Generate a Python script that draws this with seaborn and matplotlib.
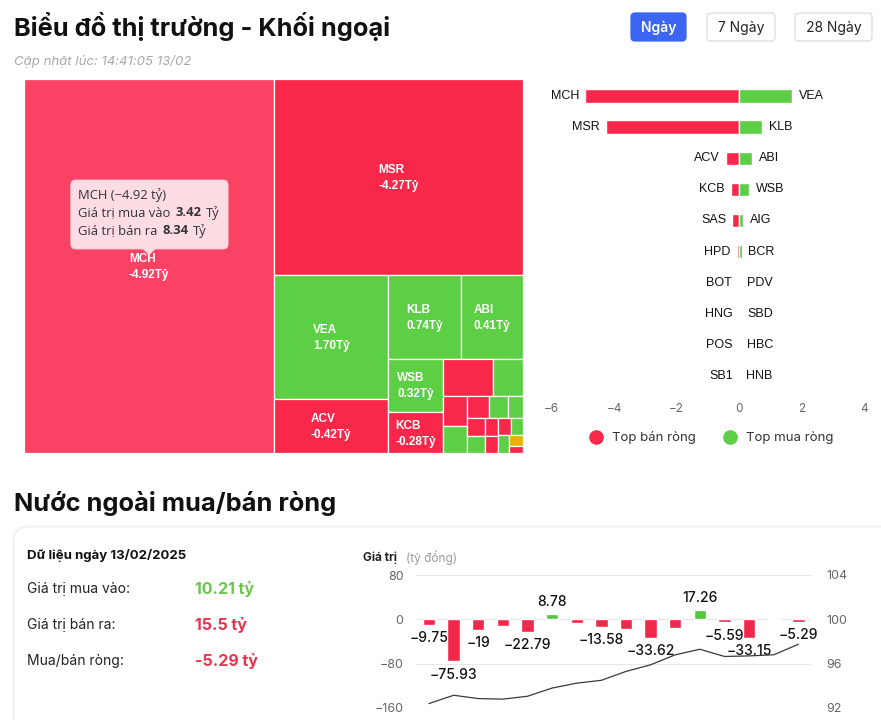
import matplotlib
matplotlib.use("Agg")
import matplotlib.pyplot as plt
import seaborn as sns
from matplotlib.patches import FancyBboxPatch, Rectangle, Polygon
from matplotlib.lines import Line2D

# ---- treemap: giá trị giao dịch (tỷ) và ròng (tỷ) từng mã ----
tm_ma = ["MCH", "MSR", "VEA", "ACV", "KLB", "ABI", "WSB", "KCB",
         "SAS", "AIG", "HPD", "BCR", "BOT", "PDV", "SBD", "HNG",
         "HBC", "POS", "SB1", "", "HNB", "", "", ""]
tm_gtgd = [11.76, 6.14, 1.77, 0.78, 0.76, 0.65, 0.37, 0.28,
           0.237, 0.139, 0.090, 0.082, 0.059, 0.053, 0.041, 0.039,
           0.038, 0.031, 0.029, 0.027, 0.026, 0.025, 0.020, 0.012]
tm_rong = [-4.92, -4.27, 1.70, -0.42, 0.74, 0.41, 0.32, -0.28,
           -0.22, 0.13, -0.08, 0.07, -0.04, 0.035, 0.03, -0.01,
           0.025, -0.005, -0.003, -0.002, 0.01, 0.005, 0.0, -0.001]
tm_hover = "MCH"
hover_mua = 3.42
hover_ban = 8.34

# ---- top bán ròng / mua ròng ----
ban_ma = ["MCH", "MSR", "ACV", "KCB", "SAS", "HPD", "BOT", "HNG", "POS", "SB1"]
ban_gt = [-4.92, -4.27, -0.42, -0.28, -0.22, -0.08, -0.04, -0.01, -0.005, -0.003]
mua_ma = ["VEA", "KLB", "ABI", "WSB", "AIG", "BCR", "PDV", "SBD", "HBC", "HNB"]
mua_gt = [1.70, 0.74, 0.41, 0.32, 0.13, 0.07, 0.035, 0.03, 0.025, 0.01]

# ---- tóm tắt ngày ----
ngay = "13/02/2025"
gt_mua_vao = "10.21"
gt_ban_ra = "15.5"
gt_mua_ban_rong = "-5.29"

# ---- ròng theo phiên + chỉ số ----
rong_phien = [-9.75, -75.93, -19, -11.8, -22.79, 8.78, -7, -13.58,
              -17.9, -33.62, -16, 17.26, -5.59, -33.15, -1.2, -5.29]
chi_so = [92.4, 93.15, 92.85, 92.8, 93.06, 93.8, 94.24, 94.5,
          95.3, 95.9, 96.8, 97.3, 96.65, 96.7, 96.8, 97.75]
an_nhan = [3, 6, 8, 10, 14]

RED = "#F9284B"
RED_HOVER = "#FA4264"
GREEN = "#5DCF45"
YELLOW = "#E3B400"
BLUE = "#3C65F2"
W_PX, H_PX = 881, 720

sns.set_theme(style="white")
plt.rcParams["font.family"] = ["Inter", "DejaVu Sans"]
plt.rcParams["axes.unicode_minus"] = True


def squarify(values, x, y, w, h):
    total = sum(values)
    areas = [v * w * h / total for v in values]

    def worst(row, side):
        s = sum(row)
        return max(max(side ** 2 * a / s ** 2, s ** 2 / (side ** 2 * a)) for a in row)

    rects = []
    i = 0
    while i < len(areas):
        side = min(w, h)
        row = [areas[i]]
        j = i + 1
        while j < len(areas) and worst(row + [areas[j]], side) <= worst(row, side):
            row.append(areas[j])
            j += 1
        s = sum(row)
        if w >= h:
            cw = s / h
            yy = y
            for a in row:
                rects.append((x, yy, cw, a / cw))
                yy += a / cw
            x += cw
            w -= cw
        else:
            rh = s / w
            xx = x
            for a in row:
                rects.append((xx, y, a / rh, rh))
                xx += a / rh
            y += rh
            h -= rh
        i = j
    return rects


def chuoi_text(ax, x, y, parts, gap=3.2, **kw):
    prev = None
    for s, bold in parts:
        fw = "bold" if bold else "normal"
        if prev is None:
            prev = ax.text(x, y, s, ha="left", va="center", fontweight=fw, **kw)
        else:
            prev = ax.annotate(s, xy=(1, 0), xycoords=prev, xytext=(gap, 0),
                               textcoords="offset points", ha="left", va="bottom",
                               fontweight=fw, **kw)
    return prev


fig = plt.figure(figsize=(W_PX / 100, H_PX / 100), dpi=100)
fig.patch.set_facecolor("white")


def px_axes(x0, y0, x1, y1, z=2):
    a = fig.add_axes([x0 / W_PX, 1 - y1 / H_PX, (x1 - x0) / W_PX, (y1 - y0) / H_PX])
    a.set_zorder(z)
    return a


# nền + chữ
bg = fig.add_axes([0, 0, 1, 1])
bg.set_zorder(0)
bg.set_xlim(0, W_PX)
bg.set_ylim(H_PX, 0)
bg.axis("off")

bg.text(14, 36, "Biểu đồ thị trường - Khối ngoại", fontsize=18.3, fontweight="bold",
        color="#111111", va="baseline")
bg.text(14, 65, "Cập nhật lúc: 14:41:05 13/02", fontsize=9.5, style="italic",
        color="#A9A9A9", va="baseline")

for (x0, x1, lab, active) in [(631, 686, "Ngày", True), (707, 775, "7 Ngày", False),
                              (795, 872, "28 Ngày", False)]:
    bg.add_patch(FancyBboxPatch((x0, 13), x1 - x0, 28,
                                boxstyle="round,pad=0,rounding_size=4",
                                fc=BLUE if active else "white",
                                ec=BLUE if active else "#DCDCDC", lw=0.9))
    bg.text((x0 + x1) / 2, 27.5, lab, ha="center", va="center", fontsize=10,
            color="white" if active else "#222222",
            fontweight="semibold" if active else "normal")

bg.text(14, 511, "Nước ngoài mua/bán ròng", fontsize=18.3, fontweight="bold",
        color="#111111", va="baseline")

bg.add_patch(FancyBboxPatch((12, 525), 900, 260, boxstyle="round,pad=0,rounding_size=16",
                            fc="#F4F4F4", ec="none", alpha=0.6))
bg.add_patch(FancyBboxPatch((14, 527), 900, 260, boxstyle="round,pad=0,rounding_size=14",
                            fc="white", ec="#EDEDED", lw=0.8))

bg.text(27, 556, f"Dữ liệu ngày {ngay}", fontsize=9.5, fontweight="bold",
        color="#111111", va="center")
for y, lab, val, col in [(589, "Giá trị mua vào:", gt_mua_vao, "#67C54B"),
                         (625, "Giá trị bán ra:", gt_ban_ra, "#E8344F"),
                         (661, "Mua/bán ròng:", gt_mua_ban_rong, "#E8344F")]:
    bg.text(27, y, lab, fontsize=10, color="#222222", va="center")
    bg.text(195, y, f"{val} tỷ", fontsize=11.5, fontweight="bold", color=col, va="center")

bg.text(363, 558, "Giá trị", fontsize=8.5, fontweight="bold", color="#222222", va="center")
bg.text(406, 558, "(tỷ đồng)", fontsize=8.5, color="#9A9A9A", va="center")

# ---- treemap ----
ax_tm = px_axes(24, 79, 523, 453)
TW, TH = 499, 374
rects = squarify(tm_gtgd, 0, 0, TW, TH)
for ma, rong, (x, y, w, h) in zip(tm_ma, tm_rong, rects):
    if ma == tm_hover:
        c = RED_HOVER
    elif rong > 0:
        c = GREEN
    elif rong < 0:
        c = RED
    else:
        c = YELLOW
    ax_tm.add_patch(Rectangle((x, y), w, h, facecolor=c, edgecolor="white", lw=0.9))
    if ma and w > 52 and h > 35:
        ax_tm.text(x + w / 2, y + h / 2 + 1, f"{ma}\n{rong:.2f}Tỷ", ha="center", va="center",
                   multialignment="left", color="white", fontsize=8.5, fontweight="bold",
                   family="Liberation Sans", linespacing=1.45)
ax_tm.set_xlim(0, TW)
ax_tm.set_ylim(TH, 0)
ax_tm.axis("off")

# tooltip
hi = tm_ma.index(tm_hover)
hx, hy, hw, hh = rects[hi]
cx, cy = hx + hw / 2, hy + hh / 2
tip = cy - 11
bl, bb = cx - 78.3, tip - 6
bt = bb - 69
ax_tm.add_patch(FancyBboxPatch((bl, bt), 157.3, 69, boxstyle="round,pad=0,rounding_size=5",
                               fc="#FDDDE3", ec="#F8CCD5", lw=0.6, zorder=5))
ax_tm.add_patch(Polygon([(cx - 7, bb - 0.5), (cx + 7, bb - 0.5), (cx, tip)], closed=True,
                        fc="#FDDDE3", ec="none", zorder=5))
tk = dict(fontsize=9.4, color="#333333", family="Open Sans", zorder=6)
ax_tm.text(bl + 7.5, bt + 15, f"{tm_hover} (−{abs(tm_rong[hi]):.2f} tỷ)", ha="left",
           va="center", **tk)
chuoi_text(ax_tm, bl + 7.5, bt + 33, [("Giá trị mua vào", False), (f"{hover_mua:.2f}", True),
                                      ("Tỷ", False)], **tk)
chuoi_text(ax_tm, bl + 7.5, bt + 51, [("Giá trị bán ra", False), (f"{hover_ban:.2f}", True),
                                     ("Tỷ", False)], **tk)

# ---- top bán/mua ròng ----
ax_bar = px_axes(551.7, 80.5, 864.4, 391.6)
hang = [str(i) for i in range(len(ban_ma))]
sns.barplot(x=ban_gt, y=hang, color=RED, saturation=1, width=0.43, orient="h", ax=ax_bar)
sns.barplot(x=mua_gt, y=hang, color=GREEN, saturation=1, width=0.43, orient="h", ax=ax_bar)
lk = dict(fontsize=9, color="#111111", family="Liberation Sans", va="center",
          textcoords="offset points")
for i, (m, v) in enumerate(zip(ban_ma, ban_gt)):
    ax_bar.annotate(m, (v, i), xytext=(-4.5, 0), ha="right", **lk)
for i, (m, v) in enumerate(zip(mua_ma, mua_gt)):
    ax_bar.annotate(m, (v, i), xytext=(4.8, 0), ha="left", **lk)
ax_bar.set_xlim(-6, 4)
ax_bar.set_xticks([-6, -4, -2, 0, 2, 4])
ax_bar.set_ylim(len(hang) - 0.5, -0.5)
ax_bar.set_yticks([])
ax_bar.set_xlabel("")
ax_bar.set_ylabel("")
ax_bar.tick_params(axis="x", length=0, pad=8, labelsize=8.5, labelcolor="#666666")
sns.despine(ax=ax_bar, left=True, bottom=True)
ax_bar.patch.set_visible(False)
ax_bar.legend(handles=[Line2D([], [], marker="o", ls="", color=RED, markersize=9.5,
                              label="Top bán ròng"),
                       Line2D([], [], marker="o", ls="", color=GREEN, markersize=9.5,
                              label="Top mua ròng")],
              loc="center", bbox_to_anchor=(0.5, -0.149), ncol=2, frameon=False,
              handletextpad=0.2, columnspacing=1.6, prop={"size": 9.5},
              labelcolor="#333333")

# ---- ròng theo phiên ----
ax_ln = px_axes(416.7, 575, 810.7, 708, z=3)
phien = list(range(len(rong_phien)))
loai = ["mua" if v > 0 else "ban" for v in rong_phien]
sns.barplot(x=phien, y=rong_phien, hue=loai, palette={"mua": "#52C73E", "ban": "#F0284A"},
            width=0.5, saturation=1, legend=False, ax=ax_ln)
for i, v in enumerate(rong_phien):
    if i in an_nhan:
        continue
    ax_ln.annotate(f"{v:g}".replace("-", "−"), (i, v), xytext=(0, -9.5 if v < 0 else 8.8),
                   textcoords="offset points", ha="center", va="center", fontsize=10,
                   fontweight="medium", color="#111111", zorder=6)
ax_ln.set_ylim(-160, 80)
ax_ln.set_yticks([-160, -80, 0, 80])
ax_ln.set_xticks([])
ax_ln.set_xlabel("")
ax_ln.set_ylabel("")
ax_ln.grid(axis="y", color="#E6E6E6", lw=0.8)
ax_ln.set_axisbelow(True)
ax_ln.tick_params(axis="y", length=0, pad=9.5, labelsize=9, labelcolor="#666666")
sns.despine(ax=ax_ln, left=True, bottom=True)
ax_ln.patch.set_visible(False)

ax2 = ax_ln.twinx()
sns.lineplot(x=phien, y=chi_so, ax=ax2, color="#3A3A3A", lw=0.9)
ax2.set_ylim(92, 104)
ax2.set_yticks([92, 96, 100, 104])
ax2.set_ylabel("")
ax2.tick_params(axis="y", length=0, pad=11.5, labelsize=9, labelcolor="#666666")
sns.despine(ax=ax2, left=True, bottom=True, right=True)
ax_ln.set_xlim(-0.5, len(phien) - 0.5)

fig.savefig("out.png", dpi=100, facecolor="white")
